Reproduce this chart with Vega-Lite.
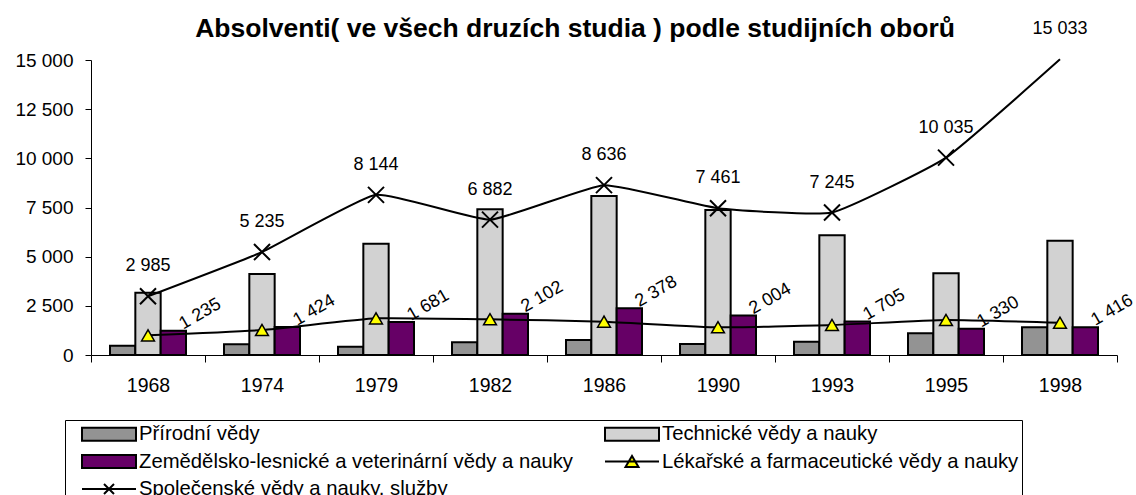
{
  "$schema": "https://vega.github.io/schema/vega-lite/v6.json",
  "autosize": {"type": "none"},
  "width": 1026,
  "height": 295,
  "padding": {"left": 91, "top": 60, "right": 19, "bottom": 140},
  "background": "white",
  "title": {
    "text": "Absolventi( ve všech druzích studia ) podle studijních oborů",
    "font": "Liberation Sans",
    "fontSize": 26.5,
    "fontWeight": "bold",
    "color": "black",
    "anchor": "middle",
    "dx": -29,
    "dy": 26,
    "offset": 4
  },
  "data": {
    "values": [
      {"rok": "1968", "obor": "Přírodní vědy", "hodnota": 475},
      {"rok": "1974", "obor": "Přírodní vědy", "hodnota": 542},
      {"rok": "1979", "obor": "Přírodní vědy", "hodnota": 424},
      {"rok": "1982", "obor": "Přírodní vědy", "hodnota": 645},
      {"rok": "1986", "obor": "Přírodní vědy", "hodnota": 763},
      {"rok": "1990", "obor": "Přírodní vědy", "hodnota": 560},
      {"rok": "1993", "obor": "Přírodní vědy", "hodnota": 678},
      {"rok": "1995", "obor": "Přírodní vědy", "hodnota": 1100},
      {"rok": "1998", "obor": "Přírodní vědy", "hodnota": 1408},
      {"rok": "1968", "obor": "Technické vědy a nauky", "hodnota": 3168},
      {"rok": "1974", "obor": "Technické vědy a nauky", "hodnota": 4118},
      {"rok": "1979", "obor": "Technické vědy a nauky", "hodnota": 5660},
      {"rok": "1982", "obor": "Technické vědy a nauky", "hodnota": 7407},
      {"rok": "1986", "obor": "Technické vědy a nauky", "hodnota": 8083},
      {"rok": "1990", "obor": "Technické vědy a nauky", "hodnota": 7372},
      {"rok": "1993", "obor": "Technické vědy a nauky", "hodnota": 6085},
      {"rok": "1995", "obor": "Technické vědy a nauky", "hodnota": 4153},
      {"rok": "1998", "obor": "Technické vědy a nauky", "hodnota": 5813},
      {"rok": "1968", "obor": "Zemědělsko-lesnické a veterinární vědy a nauky", "hodnota": 1235},
      {"rok": "1974", "obor": "Zemědělsko-lesnické a veterinární vědy a nauky", "hodnota": 1424},
      {"rok": "1979", "obor": "Zemědělsko-lesnické a veterinární vědy a nauky", "hodnota": 1681},
      {"rok": "1982", "obor": "Zemědělsko-lesnické a veterinární vědy a nauky", "hodnota": 2102},
      {"rok": "1986", "obor": "Zemědělsko-lesnické a veterinární vědy a nauky", "hodnota": 2378},
      {"rok": "1990", "obor": "Zemědělsko-lesnické a veterinární vědy a nauky", "hodnota": 2004},
      {"rok": "1993", "obor": "Zemědělsko-lesnické a veterinární vědy a nauky", "hodnota": 1705},
      {"rok": "1995", "obor": "Zemědělsko-lesnické a veterinární vědy a nauky", "hodnota": 1330},
      {"rok": "1998", "obor": "Zemědělsko-lesnické a veterinární vědy a nauky", "hodnota": 1416},
      {"rok": "1968", "obor": "Lékařské a farmaceutické vědy a nauky", "hodnota": 1000},
      {"rok": "1974", "obor": "Lékařské a farmaceutické vědy a nauky", "hodnota": 1270},
      {"rok": "1979", "obor": "Lékařské a farmaceutické vědy a nauky", "hodnota": 1865},
      {"rok": "1982", "obor": "Lékařské a farmaceutické vědy a nauky", "hodnota": 1815},
      {"rok": "1986", "obor": "Lékařské a farmaceutické vědy a nauky", "hodnota": 1695},
      {"rok": "1990", "obor": "Lékařské a farmaceutické vědy a nauky", "hodnota": 1408},
      {"rok": "1993", "obor": "Lékařské a farmaceutické vědy a nauky", "hodnota": 1525},
      {"rok": "1995", "obor": "Lékařské a farmaceutické vědy a nauky", "hodnota": 1780},
      {"rok": "1998", "obor": "Lékařské a farmaceutické vědy a nauky", "hodnota": 1642},
      {"rok": "1968", "obor": "Společenské vědy a nauky, služby", "hodnota": 2985},
      {"rok": "1974", "obor": "Společenské vědy a nauky, služby", "hodnota": 5235},
      {"rok": "1979", "obor": "Společenské vědy a nauky, služby", "hodnota": 8144},
      {"rok": "1982", "obor": "Společenské vědy a nauky, služby", "hodnota": 6882},
      {"rok": "1986", "obor": "Společenské vědy a nauky, služby", "hodnota": 8636},
      {"rok": "1990", "obor": "Společenské vědy a nauky, služby", "hodnota": 7461},
      {"rok": "1993", "obor": "Společenské vědy a nauky, služby", "hodnota": 7245},
      {"rok": "1995", "obor": "Společenské vědy a nauky, služby", "hodnota": 10035},
      {"rok": "1998", "obor": "Společenské vědy a nauky, služby", "hodnota": 15033}
    ]
  },
  "encoding": {
    "x": {
      "field": "rok",
      "type": "ordinal",
      "scale": {"paddingInner": 0, "paddingOuter": 0},
      "axis": {
        "title": null,
        "labelAngle": 0,
        "tickBand": "extent",
        "tickSize": 7,
        "labelPadding": 14,
        "labelFontSize": 19.5
      }
    },
    "y": {
      "field": "hodnota",
      "type": "quantitative",
      "scale": {"domain": [0, 15000], "nice": false},
      "axis": {
        "title": null,
        "values": [0, 2500, 5000, 7500, 10000, 12500, 15000],
        "format": ",d",
        "tickSize": 6,
        "labelPadding": 12,
        "labelFontSize": 19
      }
    }
  },
  "layer": [
    {
      "transform": [{"filter": {"field": "obor", "oneOf": ["Přírodní vědy", "Technické vědy a nauky", "Zemědělsko-lesnické a veterinární vědy a nauky"]}}],
      "mark": {"type": "bar", "stroke": "black", "strokeWidth": 2},
      "encoding": {
        "xOffset": {
          "field": "obor",
          "scale": {"domain": ["Přírodní vědy", "Technické vědy a nauky", "Zemědělsko-lesnické a veterinární vědy a nauky"], "paddingInner": 0, "paddingOuter": 0.75}
        },
        "fill": {
          "field": "obor",
          "type": "nominal",
          "scale": {
            "domain": ["Přírodní vědy", "Technické vědy a nauky", "Zemědělsko-lesnické a veterinární vědy a nauky", "Lékařské a farmaceutické vědy a nauky", "Společenské vědy a nauky, služby"],
            "range": ["#939393", "#d2d2d2", "#660066", "#ffff00", "transparent"]
          },
          "legend": {
            "orient": "none",
            "legendX": -26,
            "legendY": 360,
            "direction": "horizontal",
            "columns": 2,
            "title": null,
            "strokeColor": "black",
            "fillColor": "white",
            "padding": 3,
            "gridAlign": "all",
            "columnPadding": 17,
            "rowPadding": 5.5,
            "symbolSize": 400,
            "symbolOffset": 30,
            "labelOffset": 19,
            "labelFont": "Liberation Sans",
            "labelFontSize": 20.3,
            "labelColor": "black",
            "labelLimit": 0,
            "symbolStrokeColor": "black",
            "symbolStrokeWidth": 2,
            "encode": {
              "symbols": {
                "update": {
                  "shape": {"signal": "datum.value === 'Lékařské a farmaceutické vědy a nauky' ? 'M-2.7,0H2.7M-0.65,0.55L0,-0.55L0.65,0.55Z' : datum.value === 'Společenské vědy a nauky, služby' ? 'M-2.7,0H2.7M-0.5,-0.5L0.5,0.5M-0.5,0.5L0.5,-0.5' : 'M-2.7,-0.65H2.7V0.65H-2.7Z'"},
                  "stroke": {"value": "black"},
                  "strokeWidth": {"value": 2},
                  "opacity": {"value": 1}
                }
              }
            }
          }
        }
      }
    },
    {
      "transform": [{"filter": {"field": "obor", "oneOf": ["Lékařské a farmaceutické vědy a nauky", "Společenské vědy a nauky, služby"]}}],
      "mark": {"type": "line", "stroke": "black", "strokeWidth": 2, "interpolate": "cardinal", "tension": 0.6},
      "encoding": {"detail": {"field": "obor"}}
    },
    {
      "transform": [{"filter": {"field": "obor", "equal": "Lékařské a farmaceutické vědy a nauky"}}],
      "mark": {"type": "point", "shape": "triangle-up", "filled": true, "fill": "#ffff00", "stroke": "black", "strokeWidth": 1.5, "size": 165, "opacity": 1}
    },
    {
      "transform": [{"filter": {"field": "obor", "equal": "Společenské vědy a nauky, služby"}}, {"filter": "datum.hodnota <= 15000"}],
      "mark": {"type": "point", "shape": "M-1,-1L1,1M-1,1L1,-1", "filled": false, "stroke": "black", "strokeWidth": 2, "size": 256, "opacity": 1}
    },
    {
      "transform": [{"filter": {"field": "obor", "equal": "Společenské vědy a nauky, služby"}}],
      "mark": {"type": "text", "font": "Liberation Sans", "fontSize": 18, "color": "black", "baseline": "middle", "align": "center", "dy": -30},
      "encoding": {"text": {"field": "hodnota", "type": "quantitative", "format": ",d"}}
    },
    {
      "transform": [{"filter": {"field": "obor", "equal": "Zemědělsko-lesnické a veterinární vědy a nauky"}}],
      "mark": {"type": "text", "font": "Liberation Sans", "fontSize": 18, "color": "black", "angle": 330, "align": "left", "baseline": "alphabetic", "dx": 9, "dy": 4},
      "encoding": {
        "xOffset": {"field": "obor"},
        "text": {"field": "hodnota", "type": "quantitative", "format": ",d"}
      }
    }
  ],
  "config": {
    "locale": {"number": {"decimal": ",", "thousands": " ", "grouping": [3], "currency": ["", " Kč"]}},
    "view": {"stroke": null},
    "axis": {
      "grid": false,
      "domainColor": "black",
      "domainWidth": 1,
      "tickColor": "black",
      "tickWidth": 1,
      "labelColor": "black",
      "labelFont": "Liberation Sans"
    }
  }
}
